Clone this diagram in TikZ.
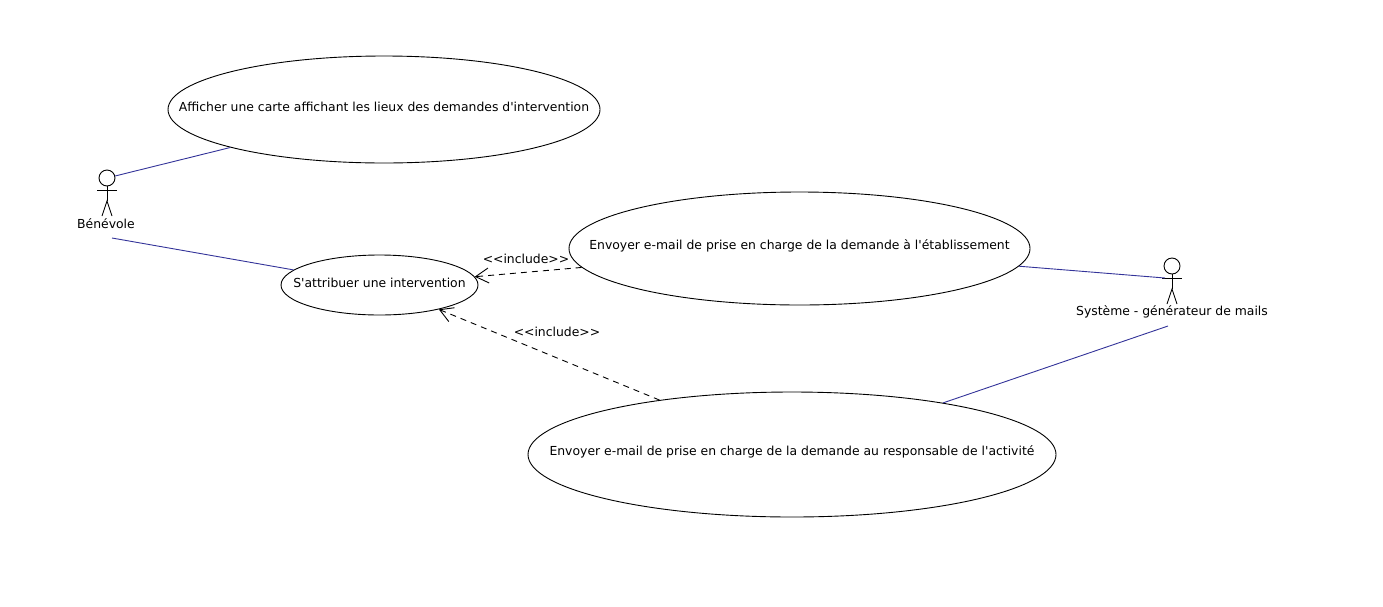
\documentclass[tikz,border=0pt]{standalone}
\usepackage{fontspec}
\usetikzlibrary{arrows.meta, shapes.geometric}
\newfontfamily\umlfont{DejaVu Sans}

\tikzset{
    usecase/.style={draw, ellipse, inner sep=0pt, line width=0.9},
    casetext/.style={yshift=3pt},
    assoc/.style={color=assocblue, line width=0.9},
    incl/.style={->, >={Straight Barb[length=13pt,width=15pt]}, dash pattern=on 6pt off 5pt, line width=0.9},
    actor/.pic={
        \node [draw, circle, minimum size=16pt, inner sep=0pt, line width=0.9] (-head) at (0,0) {};
        \draw [line width=0.9] (-head.south) -- (0,23);
        \draw [line width=0.9] (-10,12) -- (10,12);
        \draw [line width=0.9] (-5,38) -- (0,23) -- (5,38);
        \coordinate (-arm) at (-7,12);
    }
}
\definecolor{assocblue}{RGB}{51,51,153}

\begin{document}
\begin{tikzpicture}[x=1pt, y=-1pt, every node/.append style={font=\umlfont\fontsize{12.4}{15}\selectfont}]
    \useasboundingbox (0,0) rectangle (1383,606);

    % use cases
    \node [usecase, minimum width=432pt, minimum height=107pt, label={[casetext]center:Afficher une carte affichant les lieux des demandes d'intervention}] (afficher) at (384,109.5) {};
    \node [usecase, minimum width=197pt, minimum height=60pt, label={[yshift=2.5pt]center:S'attribuer une intervention}] (attribuer) at (379.5,285) {};
    \node [usecase, minimum width=461pt, minimum height=113pt, label={[casetext]center:Envoyer e-mail de prise en charge de la demande à l'établissement}] (etablissement) at (799.5,248.5) {};
    \node [usecase, minimum width=528pt, minimum height=125pt, label={[casetext]center:Envoyer e-mail de prise en charge de la demande au responsable de l'activité}] (responsable) at (792,454.5) {};

    % actors
    \pic (benevole) at (107,178) {actor};
    \node (benevolelabel) at (106,224) {Bénévole};
    \coordinate (benevolefoot) at (112,238);
    \pic (systeme) at (1172,266) {actor};
    \node (systemelabel) at (1172,312) {Système - générateur de mails};
    \coordinate (systemefoot) at (1168,326);

    % associations
    \draw [assoc] (benevole-head) -- (afficher);
    \draw [assoc] (benevolefoot) -- (attribuer);
    \draw [assoc] (etablissement) -- (systeme-arm);
    \draw [assoc] (responsable) -- (systemefoot);

    % includes
    \draw [incl] (etablissement) -- (attribuer);
    \draw [incl] (responsable) -- (attribuer);
    \node (includea) at (526,258.5) {<<include>>};
    \node (includeb) at (557,331.5) {<<include>>};
\end{tikzpicture}
\end{document}
